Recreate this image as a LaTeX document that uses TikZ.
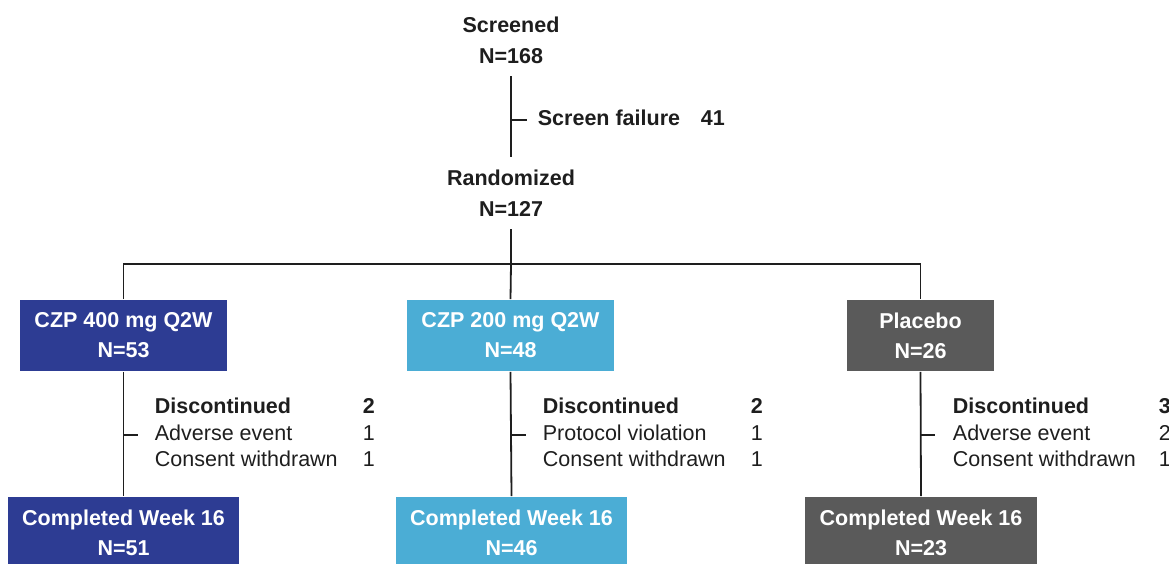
\documentclass[tikz,border=0pt]{standalone}
\usepackage{fontspec}
\setmainfont{Liberation Sans}
\definecolor{czpdark}{HTML}{2D3C93}
\definecolor{czplight}{HTML}{4BADD5}
\definecolor{pbogray}{HTML}{5A5A5A}
\definecolor{inkgray}{HTML}{1E1E1E}
\begin{document}
\begin{tikzpicture}[x=1pt,y=-1pt,line width=1.8pt,draw=inkgray,text=inkgray,
  txt/.style={font=\fontsize{21.5}{31}\selectfont\bfseries,align=center,inner xsep=0pt,inner ysep=12pt},
  arm/.style={fill=#1,text=white,font=\fontsize{21.5}{30}\selectfont\bfseries,align=center,minimum height=71pt,inner sep=0pt},
  disc/.style={anchor=west,inner sep=0pt,font=\fontsize{21.5}{26.5}\selectfont}]
\useasboundingbox (0,0) rectangle (1169,563);
\node[txt] (scr) at (511,40) {Screened\\N=168};
\node[txt] (rand) at (511,193) {Randomized\\N=127};
\node[disc,font=\fontsize{21.5}{26.5}\selectfont\bfseries] (fail) at (537,120)
  {\begin{tabular}{@{}p{163pt}@{}l@{}}Screen failure & 41\end{tabular}};
\coordinate (split) at (511,264);
\node[arm=czpdark,minimum width=207pt] (a1) at (123.5,335.5) {CZP 400 mg Q2W\\N=53};
\node[arm=czplight,minimum width=207pt] (a2) at (510.5,335.5) {CZP 200 mg Q2W\\N=48};
\node[arm=pbogray,minimum width=147pt] (a3) at (920.5,335.5) {Placebo\\N=26};
\node[arm=czpdark,minimum width=231pt] (c1) at (123.5,532.5) {Completed Week 16\\N=51};
\node[arm=czplight,minimum width=231pt] (c2) at (511.5,532.5) {Completed Week 16\\N=46};
\node[arm=pbogray,minimum width=232pt] (c3) at (921,532.5) {Completed Week 16\\N=23};
\node[disc] (d1) at (154,435) {\begin{tabular}{@{}p{208pt}@{}l@{}}
  \textbf{Discontinued} & \textbf{2}\\ Adverse event & 1\\ Consent withdrawn & 1\end{tabular}};
\node[disc] (d2) at (542,435) {\begin{tabular}{@{}p{208pt}@{}l@{}}
  \textbf{Discontinued} & \textbf{2}\\ Protocol violation & 1\\ Consent withdrawn & 1\end{tabular}};
\node[disc] (d3) at (952,435) {\begin{tabular}{@{}p{206pt}@{}l@{}}
  \textbf{Discontinued} & \textbf{3}\\ Adverse event & 2\\ Consent withdrawn & 1\end{tabular}};
\draw (scr.south) -- (rand.north);
\draw (scr.south |- fail.west) -- ++(16,0);
\draw[line width=2.8pt] (rand.south) -- (split);
\draw (a1.north) |- (split) -| (a3.north);
\draw (split) -- (a2.north);
\draw (a1.south) -- (c1.north);
\draw (a2.south) -- (c2.north);
\draw (a3.south) -- (c3.north);
\draw (a1.south |- d1.west) -- ++(14,0);
\draw (a2.south |- d2.west) -- ++(15,0);
\draw (a3.south |- d3.west) -- ++(14,0);
\end{tikzpicture}
\end{document}
